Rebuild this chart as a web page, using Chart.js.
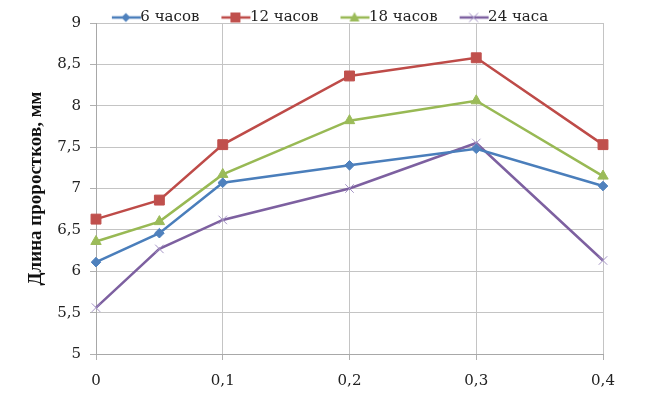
<!DOCTYPE html>
<html>
<head>
<meta charset="utf-8">
<script src="https://cdn.jsdelivr.net/npm/chart.js@4"></script>
<style>
  html, body { margin: 0; padding: 0; background: #fff; }
  #wrap { width: 656px; height: 393px; }
</style>
</head>
<body>
<div id="wrap"><canvas id="chart"></canvas></div>
<script>
// data
const doses = [0, 0.05, 0.1, 0.2, 0.3, 0.4];
const seriesNames = ['6 часов', '12 часов', '18 часов', '24 часа'];
const h6 = [6.11, 6.46, 7.07, 7.28, 7.48, 7.03];
const h12 = [6.63, 6.86, 7.53, 8.36, 8.58, 7.53];
const h18 = [6.36, 6.60, 7.17, 7.82, 8.06, 7.15];
const h24 = [5.56, 6.27, 6.62, 7.00, 7.55, 6.13];
const xTicks = [0, 0.1, 0.2, 0.3, 0.4];
const yTicks = [5, 5.5, 6, 6.5, 7, 7.5, 8, 8.5, 9];
const yTitle = 'Длина проростков, мм';

// styles
const lineColors = ['#4A7EBB', '#BE4B48', '#98B954', '#7D60A0'];
const markerColors = ['#4F81BD', '#C0504D', '#9BBB59', '#A393C4'];
const markerShapes = ['rectRot', 'rect', 'triangle', 'crossRot'];
const markerSizes = [4.8, 7, 6, 6];
const tickFont = { family: '"DejaVu Serif", serif', size: 15 };
const fmt = v => String(v).replace('.', ',');

// small picture for the legend: line with marker in the middle
function makeIcon(lineColor, markColor, shape) {
  const c = document.createElement('canvas');
  c.width = 56; c.height = 14;
  const ctx = c.getContext('2d');
  ctx.strokeStyle = lineColor;
  ctx.lineWidth = 2.5;
  ctx.beginPath(); ctx.moveTo(26, 7); ctx.lineTo(55, 7); ctx.stroke();
  const cx = 40, cy = 7;
  ctx.fillStyle = markColor;
  ctx.strokeStyle = markColor;
  ctx.beginPath();
  if (shape === 'rectRot') {
    ctx.moveTo(cx, cy - 4.5); ctx.lineTo(cx + 4.5, cy); ctx.lineTo(cx, cy + 4.5); ctx.lineTo(cx - 4.5, cy);
    ctx.closePath(); ctx.fill();
  } else if (shape === 'rect') {
    ctx.rect(cx - 5, cy - 5, 10, 10); ctx.fill();
  } else if (shape === 'triangle') {
    ctx.moveTo(cx, cy - 5.5); ctx.lineTo(cx + 5, cy + 4); ctx.lineTo(cx - 5, cy + 4);
    ctx.closePath(); ctx.fill();
  } else {
    ctx.lineWidth = 1;
    ctx.moveTo(cx - 4.5, cy - 4.5); ctx.lineTo(cx + 4.5, cy + 4.5);
    ctx.moveTo(cx + 4.5, cy - 4.5); ctx.lineTo(cx - 4.5, cy + 4.5);
    ctx.stroke();
  }
  return c;
}
const legendIcons = seriesNames.map((n, i) => makeIcon(lineColors[i], markerColors[i], markerShapes[i]));

const allSeries = [h6, h12, h18, h24];
const datasets = allSeries.map((vals, i) => ({
  label: seriesNames[i],
  data: doses.map((x, j) => ({ x: x, y: vals[j] })),
  borderColor: lineColors[i],
  borderWidth: 2.5,
  backgroundColor: markerColors[i],
  pointStyle: markerShapes[i],
  pointRadius: markerSizes[i],
  pointBackgroundColor: markerColors[i],
  pointBorderColor: markerColors[i],
  pointBorderWidth: 1,
  tension: 0,
  clip: false
}));

// legend in the original sits a bit right of centre
const legendShift = {
  id: 'legendShift',
  afterLayout(chart) {
    if (chart.legend) { chart.legend.left += 20; chart.legend.right += 20; }
  }
};

new Chart(document.getElementById('chart'), {
  type: 'line',
  data: { datasets: datasets },
  plugins: [legendShift],
  options: {
    responsive: true,
    maintainAspectRatio: false,
    animation: false,
    layout: { padding: { top: 5, right: 53, bottom: 0, left: 0 } },
    plugins: {
      tooltip: { enabled: false },
      legend: {
        position: 'top',
        maxHeight: 18,
        labels: {
          usePointStyle: true,
          pointStyleWidth: 38,
          padding: 5,
          color: '#222',
          font: tickFont,
          generateLabels(chart) {
            const items = Chart.defaults.plugins.legend.labels.generateLabels(chart);
            items.forEach(it => { it.pointStyle = legendIcons[it.datasetIndex]; });
            return items;
          }
        }
      }
    },
    scales: {
      x: {
        type: 'linear',
        min: 0,
        max: 0.4,
        afterBuildTicks: s => { s.ticks = xTicks.map(v => ({ value: v })); },
        afterFit: s => { s.height = 39; },
        grid: { color: '#c4c4c4', tickLength: 6, tickColor: '#b0b0b0' },
        border: { color: '#a8a8a8' },
        ticks: { color: '#222', font: tickFont, padding: 12, maxRotation: 0, callback: v => fmt(v) }
      },
      y: {
        min: 5,
        max: 9,
        afterBuildTicks: s => { s.ticks = yTicks.map(v => ({ value: v })); },
        afterFit: s => { s.width = 96; },
        grid: { color: '#c4c4c4', tickLength: 6, tickColor: '#b0b0b0' },
        border: { color: '#a8a8a8' },
        ticks: { color: '#222', font: tickFont, padding: 9, callback: v => fmt(v) },
        title: {
          display: true,
          text: yTitle,
          color: '#111',
          font: { family: '"Liberation Serif", serif', size: 19, weight: 'bold' },
          padding: { top: 25, bottom: 0 }
        }
      }
    }
  }
});
</script>
</body>
</html>
